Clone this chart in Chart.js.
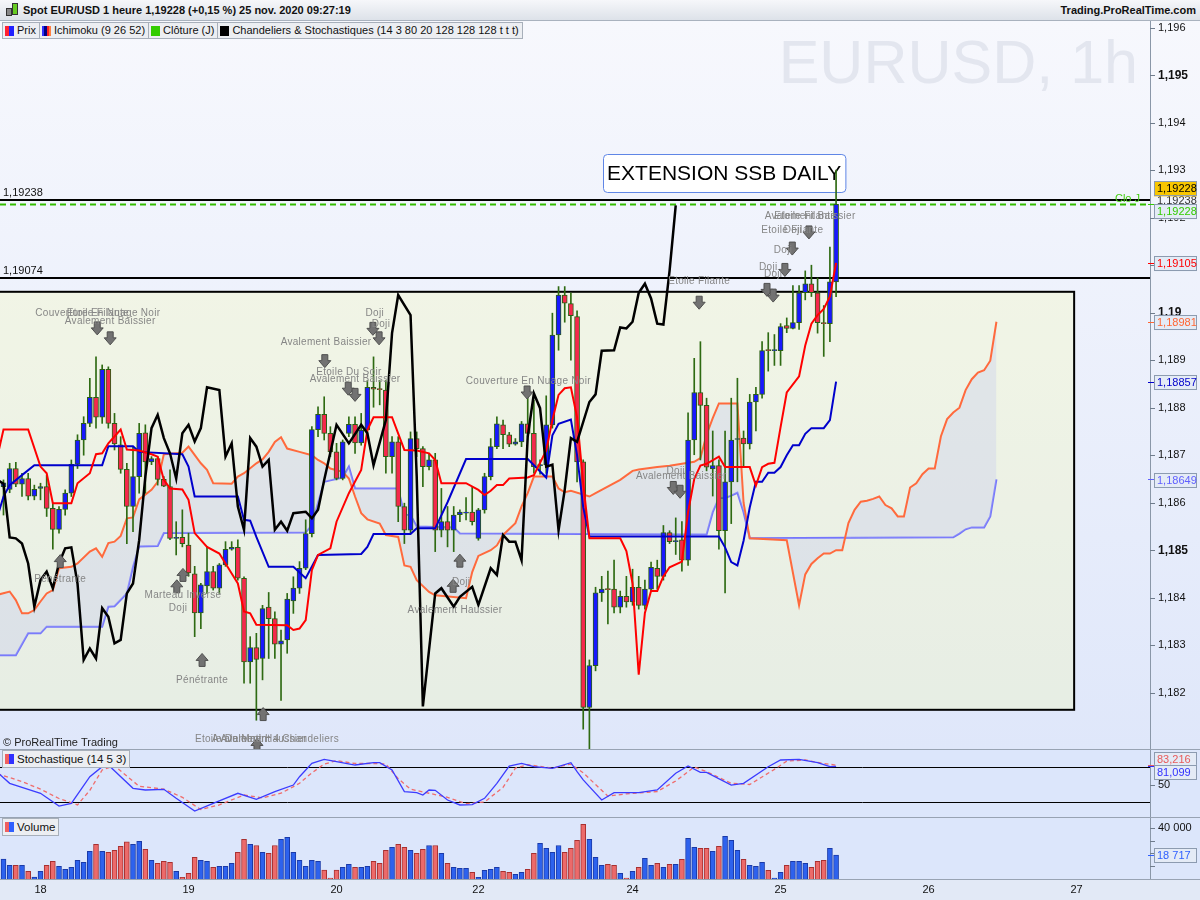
<!DOCTYPE html>
<html lang="fr">
<head>
<meta charset="utf-8">
<title>Spot EUR/USD 1 heure</title>
<script src="https://cdn.jsdelivr.net/npm/chart.js@4.4.1/dist/chart.umd.min.js"></script>
<style>
  html, body { margin: 0; padding: 0; }
  body { width: 1200px; height: 900px; overflow: hidden; position: relative;
         font-family: "Liberation Sans", Arial, sans-serif; background: #dde5f5; }
  #titlebar { position: absolute; left: 0; top: 0; width: 1200px; height: 20px;
              background: linear-gradient(#f6f7fa, #dde2e9); border-bottom: 1px solid #a9b2be;
              font-size: 11px; font-weight: bold; line-height: 20px; color: #111; z-index: 3; }
  #titlebar .t { position: absolute; left: 23px; top: 0; }
  #titlebar .site { position: absolute; right: 4px; top: 0; }
  .ico { position: absolute; width: 4px; border: 1px solid #333; }
  .pane { position: absolute; left: 0; width: 1200px; }
  #pricePane { top: 21px; height: 728px; background: linear-gradient(#f7f8fd, #dfe7fa); }
  #stochPane { top: 750px; height: 67px; background: #dce6fb; }
  #volPane { top: 818px; height: 82px; background: linear-gradient(#dce6fb 0, #dce6fb 61px, #e2e9f6 61px); }
  .sep { position: absolute; left: 0; width: 1200px; height: 1px; background: #98a3b3; z-index: 2; }
  #legend { position: absolute; left: 2px; top: 22px; display: flex; z-index: 3; }
  .item, .plabel { height: 15px; border: 1px solid #a7afba; background: #eceef2; font-size: 11px;
          line-height: 15px; padding: 0 3px 0 2px; margin-right: -1px; display: flex; align-items: center; color: #111; }
  .plabel { position: absolute; left: 2px; z-index: 3; font-size: 11.5px; height: 16px; }
  .sw { display: inline-block; width: 9px; height: 10px; margin-right: 3px; }
  canvas { position: absolute; left: 0; top: 0; }
</style>
</head>
<body>
<div id="titlebar">
  <span class="ico" style="left:6px;top:8px;height:6px;background:#888"></span>
  <span class="ico" style="left:12px;top:3px;height:10px;background:#66cc22"></span>
  <span class="t">Spot EUR/USD 1 heure 1,19228 (+0,15 %) 25 nov. 2020 09:27:19</span>
  <span class="site">Trading.ProRealTime.com</span>
</div>
<div id="legend">
  <span class="item"><i class="sw" style="background:linear-gradient(90deg,#ff2030 50%,#2020ff 50%)"></i>Prix</span>
  <span class="item"><i class="sw" style="background:linear-gradient(90deg,#3030ff 0 25%,#000080 25% 50%,#ff2020 50% 75%,#ff8040 75%)"></i>Ichimoku (9 26 52)</span>
  <span class="item"><i class="sw" style="background:#33cc00"></i>Clôture (J)</span>
  <span class="item"><i class="sw" style="background:#000"></i>Chandeliers &amp; Stochastiques (14 3 80 20 128 128 128 t t t)</span>
</div>
<div id="pricePane" class="pane"><canvas id="priceChart" width="1200" height="728"></canvas></div>
<div class="sep" style="top:749px"></div>
<div id="stochPane" class="pane"><canvas id="stochChart" width="1200" height="67"></canvas></div>
<div class="sep" style="top:817px"></div>
<div id="volPane" class="pane"><canvas id="volChart" width="1200" height="82"></canvas></div>
<div class="plabel" style="top:750px"><i class="sw" style="background:linear-gradient(90deg,#f06060 50%,#3030ff 50%)"></i>Stochastique (14 5 3)</div>
<div class="plabel" style="top:818px"><i class="sw" style="background:linear-gradient(90deg,#f06060 50%,#3060ff 50%)"></i>Volume</div>

<script>
// Bougies horaires EUR/USD (index 0 = 17 nov. ~18h, index 135 = 25 nov. 9h)
const opens = [1.18634,1.18628,1.18672,1.18639,1.18651,1.18614,1.18630,1.18634,1.18588,1.18544,
  1.18586,1.18620,1.18681,1.18732,1.18767,1.18822,1.18780,1.18881,1.18767,1.18722,
  1.18670,1.18592,1.18655,1.18747,1.18686,1.18693,1.18649,1.18634,1.18525,1.18527,
  1.18511,1.18450,1.18368,1.18425,1.18455,1.18420,1.18469,1.18502,1.18506,1.18441,
  1.18265,1.18295,1.18272,1.18380,1.18356,1.18302,1.18311,1.18393,1.18420,1.18462,
  1.18535,1.18754,1.18786,1.18746,1.18707,1.18651,1.18746,1.18765,1.18726,1.18753,
  1.18843,1.18839,1.18837,1.18697,1.18728,1.18592,1.18542,1.18735,1.18714,1.18676,
  1.18690,1.18542,1.18560,1.18542,1.18575,1.18578,1.18580,1.18525,1.18585,1.18655,
  1.18718,1.18764,1.18743,1.18723,1.18728,1.18766,1.18746,1.18678,1.18680,1.18764,
  1.18953,1.19037,1.19019,1.18992,1.18686,1.18169,1.18257,1.18410,1.18418,1.18418,
  1.18380,1.18403,1.18391,1.18422,1.18384,1.18418,1.18462,1.18445,1.18537,1.18518,
  1.18522,1.18479,1.18732,1.18832,1.18805,1.18671,1.18678,1.18541,1.18644,1.18733,
  1.18736,1.18724,1.18812,1.18828,1.18921,1.18920,1.18920,1.18973,1.18967,1.18979,
  1.19042,1.19061,1.19042,1.18978,1.18977,1.19065];
const highs = [1.18648,1.18683,1.18685,1.18662,1.18662,1.18637,1.18641,1.18658,1.18599,1.18592,
  1.18627,1.18690,1.18743,1.18781,1.18862,1.18907,1.18890,1.18886,1.18788,1.18739,
  1.18683,1.18718,1.18767,1.18764,1.18697,1.18697,1.18655,1.18669,1.18560,1.18585,
  1.18536,1.18466,1.18430,1.18508,1.18466,1.18472,1.18518,1.18518,1.18522,1.18444,
  1.18318,1.18325,1.18384,1.18411,1.18370,1.18332,1.18409,1.18444,1.18476,1.18564,
  1.18760,1.18802,1.18823,1.18760,1.18725,1.18732,1.18781,1.18781,1.18788,1.18857,
  1.18907,1.18857,1.18857,1.18739,1.18739,1.18599,1.18749,1.18749,1.18718,1.18704,
  1.18704,1.18630,1.18592,1.18592,1.18585,1.18611,1.18634,1.18588,1.18662,1.18735,
  1.18781,1.18774,1.18748,1.18735,1.18771,1.18830,1.18816,1.18690,1.18825,1.18999,
  1.19055,1.19055,1.19042,1.19004,1.18690,1.18269,1.18422,1.18445,1.18456,1.18479,
  1.18414,1.18445,1.18460,1.18445,1.18437,1.18475,1.18479,1.18552,1.18541,1.18568,
  1.18560,1.18789,1.18904,1.18939,1.18820,1.18751,1.18690,1.18751,1.18820,1.18862,
  1.18751,1.18828,1.18843,1.18939,1.18958,1.18954,1.18977,1.18989,1.19057,1.19057,
  1.19088,1.19100,1.19073,1.19015,1.19138,1.19300];
const lows = [1.18574,1.18621,1.18634,1.18613,1.18606,1.18606,1.18606,1.18571,1.18502,1.18536,
  1.18574,1.18613,1.18672,1.18700,1.18760,1.18757,1.18767,1.18757,1.18711,1.18662,
  1.18514,1.18539,1.18620,1.18620,1.18680,1.18637,1.18634,1.18522,1.18490,1.18507,
  1.18445,1.18318,1.18335,1.18409,1.18416,1.18409,1.18466,1.18500,1.18437,1.18220,
  1.18220,1.18142,1.18227,1.18272,1.18272,1.18184,1.18283,1.18367,1.18409,1.18459,
  1.18528,1.18739,1.18732,1.18697,1.18648,1.18648,1.18739,1.18704,1.18721,1.18746,
  1.18801,1.18806,1.18662,1.18662,1.18560,1.18514,1.18535,1.18697,1.18634,1.18669,
  1.18497,1.18528,1.18507,1.18497,1.18560,1.18564,1.18553,1.18521,1.18578,1.18648,
  1.18714,1.18714,1.18718,1.18721,1.18718,1.18739,1.18662,1.18660,1.18662,1.18757,
  1.18921,1.18980,1.18900,1.18644,1.18123,1.18081,1.18246,1.18392,1.18345,1.18368,
  1.18368,1.18380,1.18384,1.18376,1.18376,1.18414,1.18418,1.18437,1.18514,1.18491,
  1.18456,1.18468,1.18701,1.18690,1.18667,1.18614,1.18502,1.18410,1.18556,1.18644,
  1.18675,1.18713,1.18751,1.18820,1.18877,1.18889,1.18889,1.18958,1.18966,1.18965,
  1.19027,1.19034,1.18957,1.18908,1.18939,1.19034];
const closes = [1.18642,1.18672,1.18639,1.18651,1.18614,1.18628,1.18634,1.18588,1.18544,1.18586,
  1.18620,1.18681,1.18732,1.18767,1.18822,1.18780,1.18881,1.18767,1.18724,1.18670,
  1.18592,1.18655,1.18746,1.18686,1.18693,1.18649,1.18635,1.18525,1.18527,1.18514,
  1.18452,1.18368,1.18427,1.18455,1.18420,1.18469,1.18502,1.18506,1.18441,1.18265,
  1.18295,1.18270,1.18377,1.18356,1.18302,1.18309,1.18397,1.18420,1.18462,1.18535,
  1.18754,1.18786,1.18746,1.18707,1.18651,1.18728,1.18765,1.18726,1.18753,1.18843,
  1.18839,1.18838,1.18697,1.18728,1.18592,1.18542,1.18735,1.18714,1.18676,1.18690,
  1.18542,1.18560,1.18542,1.18574,1.18580,1.18580,1.18560,1.18585,1.18655,1.18718,
  1.18766,1.18743,1.18723,1.18728,1.18766,1.18746,1.18676,1.18680,1.18764,1.18953,
  1.19037,1.19020,1.18994,1.18686,1.18169,1.18257,1.18410,1.18418,1.18417,1.18380,
  1.18403,1.18391,1.18422,1.18384,1.18418,1.18464,1.18445,1.18537,1.18518,1.18519,
  1.18479,1.18732,1.18832,1.18805,1.18675,1.18678,1.18541,1.18644,1.18732,1.18734,
  1.18724,1.18812,1.18828,1.18920,1.18920,1.18921,1.18971,1.18967,1.18979,1.19042,
  1.19061,1.19042,1.18979,1.18977,1.19065,1.19228];
const volumes = [15700,10700,10700,10700,6000,1600,6000,10700,13900,10000,
  7600,9200,14600,13100,21700,27100,21700,20900,22500,25600,
  29100,27100,29500,23300,14600,12300,13900,13100,6000,1300,
  4400,17000,14600,13900,9200,10000,10000,12300,20900,31100,
  27100,26300,20900,20100,26300,31100,32600,20900,14600,10000,
  14600,13900,7000,800,7000,9200,11500,9200,9200,10000,
  13900,12300,22500,24800,27100,24800,22500,20100,23300,26300,
  26300,20100,12300,9200,8300,8300,5200,1300,6800,7600,
  9200,6000,5200,3600,5200,7600,20100,27900,24100,20900,
  26300,20900,24100,30400,42800,31100,17000,10700,11500,10700,
  4400,800,6000,9200,16200,10700,12300,9200,11500,11500,
  15400,31900,24800,24100,24100,21700,25600,33400,30400,22500,
  15400,10700,10000,13100,6800,800,5200,10700,13900,13900,
  12300,9200,13900,14600,24100,18717];

// Ichimoku (9 26 52) : sommets [index, prix]
const tenkan = [[-1,1.18697],[0,1.18754],[4,1.18754],[6,1.18676],[7,1.18662],[8,1.18599],[11,1.18599],
  [12,1.18641],[14,1.18662],[15,1.18702],[16,1.18704],[17,1.18725],[19,1.18754],[20,1.18712],[22,1.18710],
  [24,1.18702],[25,1.18697],[26,1.18648],[27,1.18630],[29,1.18628],[30,1.18606],[31,1.18536],[33,1.18507],
  [35,1.18493],[37,1.18451],[38,1.18430],[39,1.18371],[40,1.18367],[41,1.18343],[46,1.18342],[47,1.18332],
  [48,1.18335],[49,1.18353],[50,1.18458],[51,1.18490],[53,1.18504],[54,1.18560],[56,1.18620],[58,1.18669],
  [59,1.18753],[60,1.18780],[63,1.18780],[65,1.18711],[67,1.18710],[69,1.18704],[70,1.18690],[71,1.18641],
  [75,1.18641],[77,1.18627],[78,1.18616],[79,1.18625],[80,1.18637],[81,1.18637],[82,1.18651],[85,1.18653],
  [86,1.18658],[88,1.18710],[89,1.18774],[90,1.18827],[91,1.18841],[92,1.18843],[93,1.18780],[94,1.18640],
  [95,1.18525],[100,1.18525],[101,1.18498],[102,1.18430],[103,1.18238],[104,1.18368],[105,1.18414],
  [106,1.18414],[107,1.18445],[108,1.18464],[110,1.18476],[111,1.18580],[112,1.18650],[113,1.18678],
  [114,1.18682],[116,1.18697],[117,1.18675],[121,1.18675],[122,1.18636],[123,1.18675],[124,1.18682],
  [125,1.18684],[126,1.18759],[127,1.18832],[129,1.18866],[130,1.18931],[131,1.18977],[132,1.18995],
  [133,1.19008],[134,1.19034],[135,1.19105]];
const kijun = [[-1,1.18570],[0,1.18613],[1,1.18637],[3,1.18658],[5,1.18679],[16,1.18679],[17,1.18719],
  [21,1.18719],[22,1.18707],[29,1.18702],[30,1.18676],[31,1.18613],[38,1.18613],[39,1.18564],[40,1.18562],
  [41,1.18528],[43,1.18465],[47,1.18465],[49,1.18441],[51,1.18490],[58,1.18492],[59,1.18507],[60,1.18534],
  [66,1.18534],[67,1.18546],[70,1.18546],[72,1.18601],[75,1.18692],[85,1.18692],[88,1.18653],[89,1.18742],
  [90,1.18766],[92,1.18775],[93,1.18700],[94,1.18590],[95,1.18529],[116,1.18529],[117,1.18506],
  [118,1.18475],[119,1.18468],[120,1.18520],[121,1.18590],[122,1.18644],[123,1.18644],[124,1.18663],
  [125,1.18663],[126,1.18675],[127,1.18700],[128,1.18721],[129,1.18721],[130,1.18745],[131,1.18757],
  [133,1.18757],[134,1.18774],[135,1.18855]];
const spanA = [[-1,1.18406],[1,1.18413],[2,1.18395],[3,1.18367],[4,1.18367],[5,1.18374],[6,1.18392],
  [7,1.18409],[8,1.18416],[9,1.18462],[11,1.18465],[12,1.18472],[14,1.18497],[15,1.18504],[16,1.18486],
  [17,1.18515],[18,1.18518],[19,1.18530],[20,1.18567],[21,1.18569],[22,1.18607],[24,1.18627],[25,1.18644],
  [26,1.18702],[29,1.18705],[30,1.18718],[32,1.18683],[33,1.18669],[34,1.18641],[37,1.18640],[38,1.18655],
  [39,1.18662],[41,1.18683],[42,1.18691],[43,1.18707],[44,1.18728],[45,1.18738],[46,1.18714],[48,1.18707],
  [50,1.18700],[51,1.18690],[52,1.18683],[53,1.18672],[55,1.18665],[56,1.18651],[57,1.18613],[58,1.18578],
  [59,1.18565],[61,1.18556],[62,1.18532],[64,1.18528],[65,1.18468],[66,1.18465],[67,1.18437],[69,1.18412],
  [70,1.18405],[75,1.18399],[76,1.18454],[77,1.18488],[79,1.18500],[80,1.18510],[81,1.18532],[83,1.18557],
  [84,1.18592],[85,1.18620],[86,1.18655],[89,1.18655],[90,1.18630],[91,1.18622],[92,1.18625],[95,1.18613],
  [96,1.18620],[100,1.18648],[102,1.18667],[103,1.18670],[106,1.18675],[108,1.18678],[112,1.18686],
  [113,1.18694],[114,1.18743],[115,1.18778],[116,1.18809],[119,1.18809],[120,1.18600],[121,1.18525],
  [127,1.18521],[129,1.18384],[130,1.18449],[131,1.18471],[132,1.18483],[133,1.18493],[134,1.18493],
  [135,1.18500],[136,1.18500],[137,1.18557],[138,1.18585],[139,1.18602],[140,1.18604],[141,1.18608],
  [142,1.18613],[143,1.18595],[144,1.18588],[145,1.18571],[146,1.18571],[147,1.18632],[148,1.18641],
  [149,1.18660],[150,1.18672],[151,1.18672],[152,1.18740],[153,1.18776],[154,1.18790],[155,1.18800],
  [156,1.18837],[157,1.18860],[158,1.18874],[159,1.18879],[160,1.18899],[161,1.18981]];
const spanB = [[-1,1.18279],[2,1.18279],[4,1.18325],[6,1.18325],[7,1.18339],[16,1.18339],[17,1.18381],
  [18,1.18382],[20,1.18409],[21,1.18465],[22,1.18508],[25,1.18509],[26,1.18536],[49,1.18537],[50,1.18553],
  [51,1.18600],[52,1.18644],[53,1.18647],[55,1.18653],[56,1.18676],[57,1.18630],[64,1.18630],[65,1.18574],
  [66,1.18574],[67,1.18550],[73,1.18548],[74,1.18535],[114,1.18533],[115,1.18580],[116,1.18610],
  [117,1.18610],[118,1.18615],[119,1.18621],[120,1.18580],[121,1.18525],[154,1.18527],[155,1.18535],
  [156,1.18544],[157,1.18548],[159,1.18548],[160,1.18571],[161,1.18649]];
// Chandeliers & Stochastiques (ligne noire)
const chandStoch = [[-1,1.18648],[0,1.18640],[1,1.18527],[2,1.18525],[3,1.18514],[4,1.18472],[5,1.18381],
  [6,1.18437],[7,1.18455],[8,1.18420],[9,1.18472],[10,1.18504],[11,1.18506],[12,1.18430],[13,1.18269],
  [14,1.18293],[15,1.18272],[16,1.18378],[17,1.18360],[18,1.18304],[19,1.18311],[20,1.18409],[21,1.18430],
  [22,1.18521],[23,1.18655],[24,1.18757],[25,1.18785],[26,1.18736],[27,1.18704],[28,1.18651],[29,1.18746],
  [30,1.18764],[31,1.18729],[32,1.18757],[33,1.18843],[35,1.18837],[36,1.18697],[37,1.18725],[38,1.18592],
  [39,1.18543],[40,1.18736],[41,1.18718],[42,1.18676],[43,1.18690],[44,1.18543],[45,1.18560],[46,1.18541],
  [47,1.18578],[49,1.18581],[50,1.18567],[51,1.18585],[52,1.18648],[54,1.18764],[56,1.18725],[58,1.18764],
  [59,1.18746],[60,1.18679],[62,1.18774],[63,1.18957],[64,1.19037],[66,1.18995],[67,1.18656],[68,1.18171],
  [70,1.18409],[71,1.18420],[73,1.18381],[74,1.18402],[76,1.18423],[77,1.18385],[79,1.18462],[80,1.18448],
  [81,1.18532],[82,1.18518],[83,1.18518],[84,1.18479],[85,1.18739],[86,1.18830],[87,1.18799],[88,1.18676],
  [89,1.18680],[90,1.18542],[91,1.18627],[92,1.18736],[93,1.18728],[95,1.18812],[96,1.18828],[97,1.18920],
  [99,1.18921],[100,1.18969],[101,1.18967],[102,1.18981],[103,1.19042],[104,1.19061],[105,1.19030],
  [106,1.18977],[107,1.18975],[108,1.19088],[109,1.19226]];

// Stochastique (14 5 3)
const stochK = [[-1,71],[1,52],[4,41.7],[6,34.9],[9,13.1],[11,17.7],[14,63.4],[16,80.5],[17,83.4],[21,43.5],
  [23,40.6],[26,41.7],[28,26.3],[31,4.6],[34,17.7],[38,34.9],[41,24.6],[44,37.7],[47,49.1],[48,63.4],
  [50,86.3],[52,93.2],[54,89.1],[57,83.4],[60,87.4],[61,87.4],[63,74.9],[65,37.7],[67,36],[68,32],[69,40.6],
  [70,40],[72,23.4],[74,14.9],[76,15.5],[78,26.3],[80,52],[82,81.7],[84,86.3],[86,80.5],[89,77.7],[92,87.4],
  [93,72],[94,58],[95,46.3],[97,23.4],[99,36],[103,36],[106,40.6],[109,69.2],[111,81.7],[113,70.9],[114,70.9],
  [118,49.1],[120,52],[124,80.5],[126,92],[129,93.2],[132,87.4],[134,80.5],[135,81.099]];
const stochD = [[-1,68],[1,62],[3,55],[6,42],[9,26],[12,15],[14,40],[16,75],[18,82],[22,47],[26,42],[29,28],
  [32,7],[35,15],[39,32],[42,27],[45,35],[48,52],[50,70],[52,85],[54,91],[57,86],[60,86],[62,85],[64,60],
  [66,42],[69,35],[72,28],[75,17],[78,20],[81,45],[83,78],[85,84],[89,78],[92,85],[94,70],[96,50],[98,30],
  [101,34],[106,38],[109,56],[112,80],[114,72],[118,52],[121,50],[125,76],[127,90],[130,92],[133,86],
  [135,83.216]];

// Axes
const priceTicks = [1.182,1.183,1.184,1.185,1.186,1.187,1.188,1.189,1.19,1.191,1.192,1.193,1.194,1.195,1.196];
const boldPriceTicks = [1.185, 1.19, 1.195];
const stochTicks = [50];
const volTicks = [10000, 20000, 30000, 40000];
const volTickLabels = ['', '', '', '40 000'];
const dayTicks = [6, 30, 54, 77, 102, 126, 150, 174];
const dayLabels = ['18', '19', '20', '22', '24', '25', '26', '27'];

// Objets tracés : niveaux, zone, figures de chandeliers
const levels = [1.19238, 1.19074];
const dailyClose = 1.19228;
const zone = { from: -3, to: 173.6, top: 1.19044, bottom: 1.18164 };
const note = { from: 97.2, to: 136.5, top: 1.19334, bottom: 1.19254, text: 'EXTENSION SSB DAILY' };
const patternLabels = [
  [15.3, 1.18999, 'Couverture En Nuage Noir'], [15.3, 1.18999, 'Etoile Filante'], [17.3, 1.18982, 'Avalement Baissier'],
  [52.3, 1.18938, 'Avalement Baissier'], [60.2, 1.18999, 'Doji'], [61.2, 1.18976, 'Doji'],
  [56.0, 1.18875, 'Etoile Du Soir'], [57.0, 1.18860, 'Avalement Baissier'], [85.1, 1.18856, 'Couverture En Nuage Noir'],
  [9.2, 1.18439, 'Pénétrante'], [29.1, 1.18406, 'Marteau Inversé'], [28.3, 1.18378, 'Doji'],
  [32.2, 1.18227, 'Pénétrante'], [74.2, 1.18433, 'Doji'], [73.2, 1.18374, 'Avalement Haussier'],
  [112.8, 1.19067, 'Etoile Filante'], [124.0, 1.19096, 'Doji'], [124.8, 1.19081, 'Doji'],
  [126.4, 1.19132, 'Doji'], [127.9, 1.19174, 'Etoile Filante'], [128.0, 1.19174, 'Doji'],
  [130.8, 1.19204, 'Avalement Baissier'], [130.0, 1.19204, 'Etoile Filante'],
  [109.0, 1.18667, 'Doji'], [109.9, 1.18656, 'Avalement Baissier'],
  [36.9, 1.18103, 'Etoile Du Matin'], [41.5, 1.18103, 'Avalement Haussier'], [44.8, 1.18103, 'Avalement 4 Chandeliers']
];
const patternArrows = [
  [15.2, 1.18967, -1], [17.3, 1.18946, -1], [59.9, 1.18966, -1], [60.9, 1.18946, -1], [52.1, 1.18898, -1],
  [55.9, 1.18840, -1], [57.0, 1.18827, -1], [84.9, 1.18832, -1], [9.2, 1.18477, 1], [29.1, 1.18448, 1],
  [28.1, 1.18424, 1], [32.2, 1.18269, 1], [42.1, 1.18155, 1], [41.1, 1.18090, 1], [74.0, 1.18478, 1],
  [72.9, 1.18425, 1], [112.8, 1.19021, -1], [123.8, 1.19048, -1], [124.8, 1.19036, -1], [126.7, 1.19090, -1],
  [127.9, 1.19135, -1], [130.6, 1.19169, -1], [108.6, 1.18631, -1], [109.7, 1.18623, -1]
];

// ---------------------------------------------------------------
Chart.defaults.font.family = '"Liberation Sans", Arial, sans-serif';
Chart.defaults.animation = false;

const FONT = '"Liberation Sans", Arial, sans-serif';
const X_MIN = -0.567, X_MAX = 185.9;
const idx = opens.map((_, i) => i);
const isUp = i => closes[i] >= opens[i];
const toPts = arr => arr.map(([x, y]) => ({ x, y }));
const fmtNum = (v, d) => v.toFixed(d).replace('.', ',');
const tickText = v => String(parseFloat(v.toFixed(3))).replace('.', ',');

const xScale = { type: 'linear', min: X_MIN, max: X_MAX, offset: false, display: false };

function axisLine(chart) {
  const { ctx, chartArea: a } = chart;
  ctx.strokeStyle = '#8a97a8';
  ctx.lineWidth = 1;
  ctx.beginPath();
  ctx.moveTo(a.right + 0.5, 0);
  ctx.lineTo(a.right + 0.5, a.bottom);
  ctx.stroke();
}

function tickMark(chart, py) {
  const { ctx, chartArea: a } = chart;
  ctx.strokeStyle = '#6f7c8c';
  ctx.beginPath();
  ctx.moveTo(a.right, Math.round(py) + 0.5);
  ctx.lineTo(a.right + 5, Math.round(py) + 0.5);
  ctx.stroke();
}

function drawTag(chart, vy, dy, text, color, bg, markColor) {
  const { ctx, chartArea: a } = chart;
  const cy = vy + dy, left = a.right + 4, w = 43, h = 15;
  if (markColor) {
    ctx.strokeStyle = markColor;
    ctx.beginPath();
    ctx.moveTo(a.right - 2, Math.round(vy) + 0.5);
    ctx.lineTo(left, Math.round(vy) + 0.5);
    ctx.stroke();
  }
  ctx.fillStyle = bg;
  ctx.fillRect(left, cy - h / 2, w, h);
  ctx.strokeStyle = '#8c9bb0';
  ctx.strokeRect(left + 0.5, Math.round(cy - h / 2) + 0.5, w - 1, h - 1);
  ctx.fillStyle = color;
  ctx.font = '11px ' + FONT;
  ctx.textAlign = 'left';
  ctx.textBaseline = 'middle';
  ctx.fillText(text, left + 3, cy + 0.5);
}

function drawArrow(ctx, cx, cy, dir) {
  const h = 13, w = 12, sw = 6, hh = 7;
  const tip = cy - dir * h / 2, base = cy + dir * h / 2, neck = tip + dir * hh;
  ctx.beginPath();
  ctx.moveTo(cx, tip);
  ctx.lineTo(cx + w / 2, neck);
  ctx.lineTo(cx + sw / 2, neck);
  ctx.lineTo(cx + sw / 2, base);
  ctx.lineTo(cx - sw / 2, base);
  ctx.lineTo(cx - sw / 2, neck);
  ctx.lineTo(cx - w / 2, neck);
  ctx.closePath();
  ctx.fillStyle = '#727272';
  ctx.fill();
  ctx.strokeStyle = '#4f4f4f';
  ctx.lineWidth = 1;
  ctx.stroke();
}

// Graphique des prix
const pricePlugin = {
  id: 'pricePlugin',
  beforeDatasetsDraw(chart) {
    const { ctx, chartArea: a, scales: { x, y } } = chart;
    ctx.save();
    // filigrane
    ctx.font = '61px ' + FONT;
    ctx.fillStyle = '#e3e6ef';
    ctx.textAlign = 'right';
    ctx.textBaseline = 'alphabetic';
    ctx.fillText('EURUSD, 1h', a.right - 12, 62);
    // zone rectangle
    const rx1 = x.getPixelForValue(zone.from), rx2 = x.getPixelForValue(zone.to);
    const ry1 = y.getPixelForValue(zone.top), ry2 = y.getPixelForValue(zone.bottom);
    ctx.fillStyle = 'rgba(252,255,164,0.25)';
    ctx.fillRect(rx1, ry1, rx2 - rx1, ry2 - ry1);
    ctx.lineWidth = 2;
    ctx.strokeStyle = '#000';
    ctx.strokeRect(rx1, ry1, rx2 - rx1, ry2 - ry1);
    // niveaux horizontaux
    levels.forEach(v => {
      const py = Math.round(y.getPixelForValue(v));
      ctx.strokeStyle = '#000';
      ctx.lineWidth = 2;
      ctx.beginPath();
      ctx.moveTo(a.left, py);
      ctx.lineTo(a.right, py);
      ctx.stroke();
      ctx.fillStyle = '#111';
      ctx.font = '11px ' + FONT;
      ctx.textAlign = 'left';
      ctx.textBaseline = 'alphabetic';
      ctx.fillText(fmtNum(v, 5), 3, py - 4);
    });
    const gy = Math.round(y.getPixelForValue(dailyClose)) + 0.5;
    ctx.strokeStyle = '#33bb00';
    ctx.lineWidth = 2;
    ctx.setLineDash([6, 4]);
    ctx.beginPath();
    ctx.moveTo(a.left, gy);
    ctx.lineTo(a.right, gy);
    ctx.stroke();
    ctx.setLineDash([]);
    ctx.fillStyle = '#44cc11';
    ctx.font = '11px ' + FONT;
    ctx.textAlign = 'right';
    ctx.fillText('Clo J', a.right - 10, gy - 3);
    // note
    const nx1 = x.getPixelForValue(note.from), nx2 = x.getPixelForValue(note.to);
    const ny1 = y.getPixelForValue(note.top), ny2 = y.getPixelForValue(note.bottom);
    ctx.beginPath();
    ctx.roundRect(Math.round(nx1) + 0.5, Math.round(ny1) + 0.5, nx2 - nx1, ny2 - ny1, 4);
    ctx.fillStyle = '#ffffff';
    ctx.fill();
    ctx.strokeStyle = '#5f86e6';
    ctx.lineWidth = 1;
    ctx.stroke();
    ctx.fillStyle = '#000';
    ctx.font = '21px ' + FONT;
    ctx.textAlign = 'center';
    ctx.textBaseline = 'middle';
    ctx.fillText(note.text, (nx1 + nx2) / 2, (ny1 + ny2) / 2 + 1);
    ctx.restore();
  },
  afterDatasetsDraw(chart) {
    const { ctx, scales: { x, y } } = chart;
    ctx.save();
    patternArrows.forEach(([i, p, d]) => drawArrow(ctx, x.getPixelForValue(i), y.getPixelForValue(p), d));
    ctx.font = '10px ' + FONT;
    ctx.letterSpacing = '0.3px';
    ctx.fillStyle = '#868686';
    ctx.textAlign = 'center';
    ctx.textBaseline = 'middle';
    patternLabels.forEach(([i, p, t]) => ctx.fillText(t, x.getPixelForValue(i), y.getPixelForValue(p)));
    ctx.letterSpacing = '0px';
    ctx.fillStyle = '#222';
    ctx.font = '11px ' + FONT;
    ctx.textAlign = 'left';
    ctx.fillText('© ProRealTime Trading', 3, 722);
    ctx.restore();
  },
  afterDraw(chart) {
    const { ctx, chartArea: a, scales: { y } } = chart;
    ctx.save();
    axisLine(chart);
    ctx.textAlign = 'left';
    ctx.textBaseline = 'middle';
    priceTicks.forEach(v => {
      const py = y.getPixelForValue(v);
      tickMark(chart, py);
      const bold = boldPriceTicks.includes(v);
      ctx.font = (bold ? 'bold 12px ' : '11px ') + FONT;
      ctx.fillStyle = '#111';
      ctx.fillText(tickText(v), a.right + 8, py);
    });
    // étiquettes de valeurs
    ctx.font = '11px ' + FONT;
    ctx.fillStyle = '#333';
    ctx.fillText(fmtNum(levels[0], 5), a.right + 7, y.getPixelForValue(levels[0]) + 1);
    const vc = y.getPixelForValue(dailyClose);
    drawTag(chart, vc, -15.5, fmtNum(closes[closes.length - 1], 5), '#000', '#f7c600', null);
    drawTag(chart, vc, 7.5, fmtNum(dailyClose, 5), '#33cc00', '#e4ebf6', '#33cc00');
    drawTag(chart, y.getPixelForValue(tenkan[tenkan.length - 1][1]), 1, fmtNum(tenkan[tenkan.length - 1][1], 5), '#ff0000', '#e4ebf6', '#ff0000');
    drawTag(chart, y.getPixelForValue(spanA[spanA.length - 1][1]), 1, fmtNum(spanA[spanA.length - 1][1], 5), '#ff6633', '#e4ebf6', '#ff6633');
    drawTag(chart, y.getPixelForValue(kijun[kijun.length - 1][1]), 1, fmtNum(1.18857, 5), '#0000cc', '#e4ebf6', '#0000cc');
    drawTag(chart, y.getPixelForValue(spanB[spanB.length - 1][1]), 1, fmtNum(spanB[spanB.length - 1][1], 5), '#6060ff', '#e4ebf6', '#6060ff');
    ctx.restore();
  }
};

new Chart(document.getElementById('priceChart'), {
  type: 'bar',
  data: {
    datasets: [
      { type: 'line', label: 'SSB', data: toPts(spanB), borderColor: 'rgba(95,95,255,0.85)', borderWidth: 2,
        pointRadius: 0, tension: 0, fill: false, order: 6 },
      { type: 'line', label: 'SSA', data: toPts(spanA), borderColor: '#ff6a3d', borderWidth: 2,
        pointRadius: 0, tension: 0, fill: '-1', backgroundColor: 'rgba(190,195,240,0.3)', order: 5 },
      { label: 'Mèches', data: idx.map(i => ({ x: i, y: [lows[i], highs[i]] })), backgroundColor: '#2e6a12',
        barThickness: 1, grouped: false, order: 4 },
      { label: 'Corps', data: idx.map(i => ({ x: i, y: [opens[i], closes[i]] })),
        backgroundColor: idx.map(i => isUp(i) ? '#1818ff' : '#f5284c'), borderColor: '#2a5e14', borderWidth: 1,
        borderSkipped: false, barThickness: 5, minBarLength: 1, grouped: false, order: 3 },
      { type: 'line', label: 'Kijun', data: toPts(kijun), borderColor: '#0000cc', borderWidth: 2,
        pointRadius: 0, tension: 0, fill: false, order: 2 },
      { type: 'line', label: 'Tenkan', data: toPts(tenkan), borderColor: '#ff0000', borderWidth: 2,
        pointRadius: 0, tension: 0, fill: false, order: 1 },
      { type: 'line', label: 'Chandeliers & Stochastiques', data: toPts(chandStoch), borderColor: '#000',
        borderWidth: 2.5, pointRadius: 0, tension: 0, fill: false, order: 0 }
    ]
  },
  options: {
    responsive: false,
    devicePixelRatio: 1,
    layout: { padding: { right: 50 } },
    plugins: { legend: { display: false }, tooltip: { enabled: false } },
    scales: {
      x: xScale,
      y: { type: 'linear', min: 1.1808147, max: 1.1961411, display: false }
    }
  },
  plugins: [pricePlugin]
});

// Stochastique
const stochPlugin = {
  id: 'stochPlugin',
  beforeDatasetsDraw(chart) {
    const { ctx, chartArea: a, scales: { y } } = chart;
    ctx.save();
    ctx.strokeStyle = '#000';
    ctx.lineWidth = 1;
    [80, 20].forEach(v => {
      const py = Math.round(y.getPixelForValue(v)) + 0.5;
      ctx.beginPath();
      ctx.moveTo(a.left, py);
      ctx.lineTo(a.right, py);
      ctx.stroke();
    });
    ctx.restore();
  },
  afterDraw(chart) {
    const { ctx, chartArea: a, scales: { y } } = chart;
    ctx.save();
    axisLine(chart);
    ctx.font = '11px ' + FONT;
    ctx.fillStyle = '#111';
    ctx.textAlign = 'left';
    ctx.textBaseline = 'middle';
    stochTicks.forEach(v => {
      const py = y.getPixelForValue(v);
      tickMark(chart, py);
      ctx.fillText(String(v), a.right + 8, py);
    });
    const kLast = stochK[stochK.length - 1][1], dLast = stochD[stochD.length - 1][1];
    drawTag(chart, y.getPixelForValue(dLast), -6, fmtNum(dLast, 3), '#e85a5a', '#e4ebf6', '#e85a5a');
    drawTag(chart, y.getPixelForValue(kLast), 6, fmtNum(kLast, 3), '#3030ff', '#e4ebf6', '#3030ff');
    ctx.restore();
  }
};

new Chart(document.getElementById('stochChart'), {
  type: 'line',
  data: {
    datasets: [
      { label: '%K', data: toPts(stochK), borderColor: '#3c3cff', borderWidth: 1.3, pointRadius: 0, tension: 0, fill: false, order: 0 },
      { label: '%D', data: toPts(stochD), borderColor: '#f06c6c', borderWidth: 1.3, borderDash: [4, 3],
        pointRadius: 0, tension: 0, fill: false, order: 1 }
    ]
  },
  options: {
    responsive: false,
    devicePixelRatio: 1,
    layout: { padding: { right: 50 } },
    plugins: { legend: { display: false }, tooltip: { enabled: false } },
    scales: {
      x: xScale,
      y: { type: 'linear', min: -5.72, max: 109.15, display: false }
    }
  },
  plugins: [stochPlugin]
});

// Volume
const volPlugin = {
  id: 'volPlugin',
  afterDraw(chart) {
    const { ctx, chartArea: a, scales: { x, y } } = chart;
    ctx.save();
    axisLine(chart);
    ctx.strokeStyle = '#98a3b3';
    ctx.beginPath();
    ctx.moveTo(0, a.bottom + 0.5);
    ctx.lineTo(chart.width, a.bottom + 0.5);
    ctx.stroke();
    ctx.font = '11px ' + FONT;
    ctx.fillStyle = '#111';
    ctx.textAlign = 'left';
    ctx.textBaseline = 'middle';
    volTicks.forEach((v, k) => {
      const py = y.getPixelForValue(v);
      tickMark(chart, py);
      if (volTickLabels[k]) ctx.fillText(volTickLabels[k], a.right + 8, py);
    });
    const vLast = volumes[volumes.length - 1];
    drawTag(chart, y.getPixelForValue(vLast), 0, '18 717', '#3060ff', '#e4ebf6', '#3060ff');
    ctx.fillStyle = '#111';
    ctx.font = '11px ' + FONT;
    ctx.textAlign = 'center';
    dayTicks.forEach((d, k) => ctx.fillText(dayLabels[k], x.getPixelForValue(d), a.bottom + 11));
    ctx.restore();
  }
};

new Chart(document.getElementById('volChart'), {
  type: 'bar',
  data: {
    datasets: [{
      label: 'Volume',
      data: idx.map(i => ({ x: i, y: volumes[i] })),
      backgroundColor: idx.map(i => isUp(i) ? '#2d62ee' : '#ec6a6a'),
      borderColor: idx.map(i => isUp(i) ? '#1a3aa8' : '#a83030'),
      borderWidth: 1,
      borderSkipped: 'start',
      barThickness: 5,
      grouped: false
    }]
  },
  options: {
    responsive: false,
    devicePixelRatio: 1,
    layout: { padding: { right: 50, bottom: 21 } },
    plugins: { legend: { display: false }, tooltip: { enabled: false } },
    scales: {
      x: xScale,
      y: { type: 'linear', min: 0, max: 47843, display: false }
    }
  },
  plugins: [volPlugin]
});
</script>
</body>
</html>
